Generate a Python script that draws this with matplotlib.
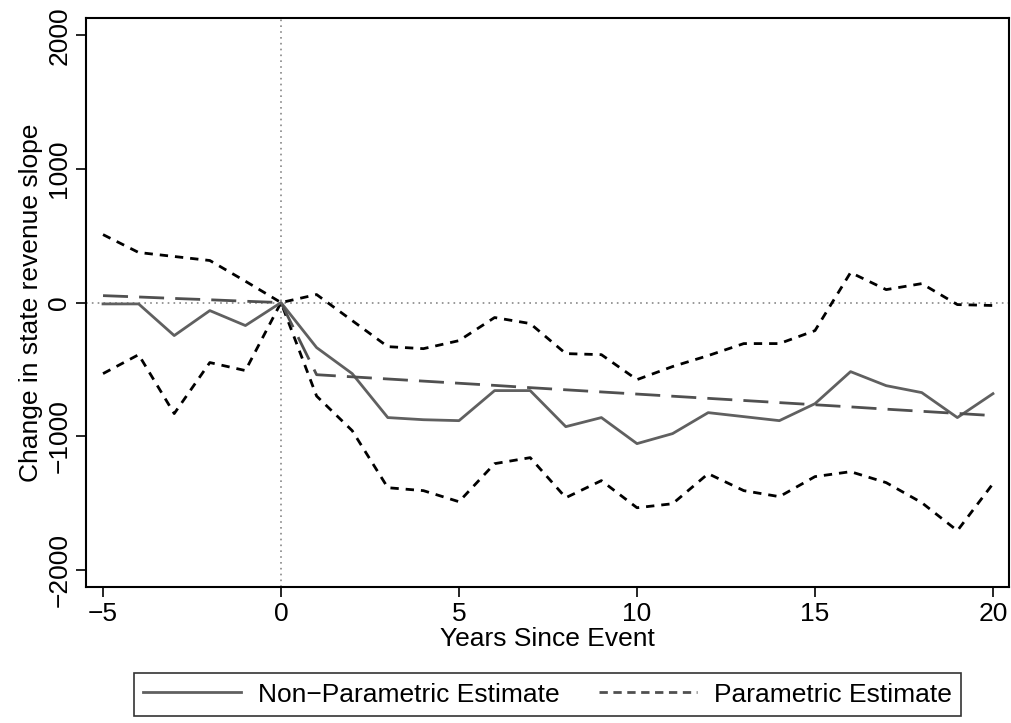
import matplotlib.pyplot as plt

plt.rcParams['font.family'] = ['Liberation Sans', 'DejaVu Sans']

years = list(range(-5, 21))

# estimativa nao parametrica (linha cinza solida)
nao_param = [-10, -10, -247, -60, -172, 0, -337, -532, -861, -877, -884, -659, -659,
             -929, -861, -1056, -981, -824, -854, -884, -757, -517, -622, -674, -861, -682]

# intervalo de confianca superior e inferior
ic_sup = [509, 375, 345, 315, 160, 0, 60, -135, -330, -345, -285, -112, -157,
          -382, -390, -577, -479, -397, -307, -307, -210, 225, 97, 142, -15, -22]
ic_inf = [-532, -390, -831, -449, -509, 0, -700, -959, -1386, -1408, -1491, -1206, -1161,
          -1461, -1333, -1536, -1506, -1281, -1408, -1453, -1303, -1266, -1348, -1498, -1708, -1356]

# estimativa parametrica (tracejada longa)
param = [52, 42, 31, 21, 10, 0, -540, -556, -572, -588, -604, -620, -637, -653,
         -669, -685, -701, -717, -733, -749, -765, -781, -798, -814, -830, -846]

fs = 19

fig = plt.figure(figsize=(10.11, 7.23), dpi=100)
ax = fig.add_axes([0.085, 0.188, 0.913, 0.787])

ax.axhline(0, color='#888888', lw=1.2, linestyle=(0, (1, 2.5)), zorder=1)
ax.axvline(0, color='#888888', lw=1.2, linestyle=(0, (1, 2.5)), zorder=1)

ax.plot(years, ic_sup, color='black', lw=2, linestyle=(0, (3, 2.5)), zorder=2)
ax.plot(years, ic_inf, color='black', lw=2, linestyle=(0, (3, 2.5)), zorder=2)
l1, = ax.plot(years, nao_param, color='#606060', lw=2, zorder=3)
l2, = ax.plot(years, param, color='#505050', lw=2, linestyle=(0, (9, 4)), zorder=3)

ax.set_xlim(-5.48, 20.45)
ax.set_ylim(-2130, 2130)
ax.set_xticks([-5, 0, 5, 10, 15, 20])
ax.set_xticklabels(['\u22125', '0', '5', '10', '15', '20'])
ax.set_yticks([-2000, -1000, 0, 1000, 2000])
ax.set_yticklabels(['\u22122000', '\u22121000', '0', '1000', '2000'],
                   rotation=90, va='center')
ax.tick_params(direction='out', length=7, width=1.2, labelsize=fs, colors='black')
for s in ax.spines.values():
    s.set_linewidth(1.5)

ax.set_xlabel('Years Since Event', fontsize=fs, labelpad=1)
ax.set_ylabel('Change in state revenue slope', fontsize=fs, labelpad=3)

# legenda embaixo
h_leg = plt.Line2D([], [], color='#505050', lw=2, linestyle=(0, (3, 2)))
leg = fig.legend([l1, h_leg], ['Non\u2212Parametric Estimate', 'Parametric Estimate'],
                 loc='center', bbox_to_anchor=(0.5416, 0.0394), ncol=2,
                 fontsize=fs, frameon=True, fancybox=False, edgecolor='black',
                 handlelength=3.7, handletextpad=0.65, columnspacing=1.5,
                 borderpad=0.35)
leg.get_frame().set_linewidth(1.2)

plt.savefig('out.png', dpi=100)
plt.close()
